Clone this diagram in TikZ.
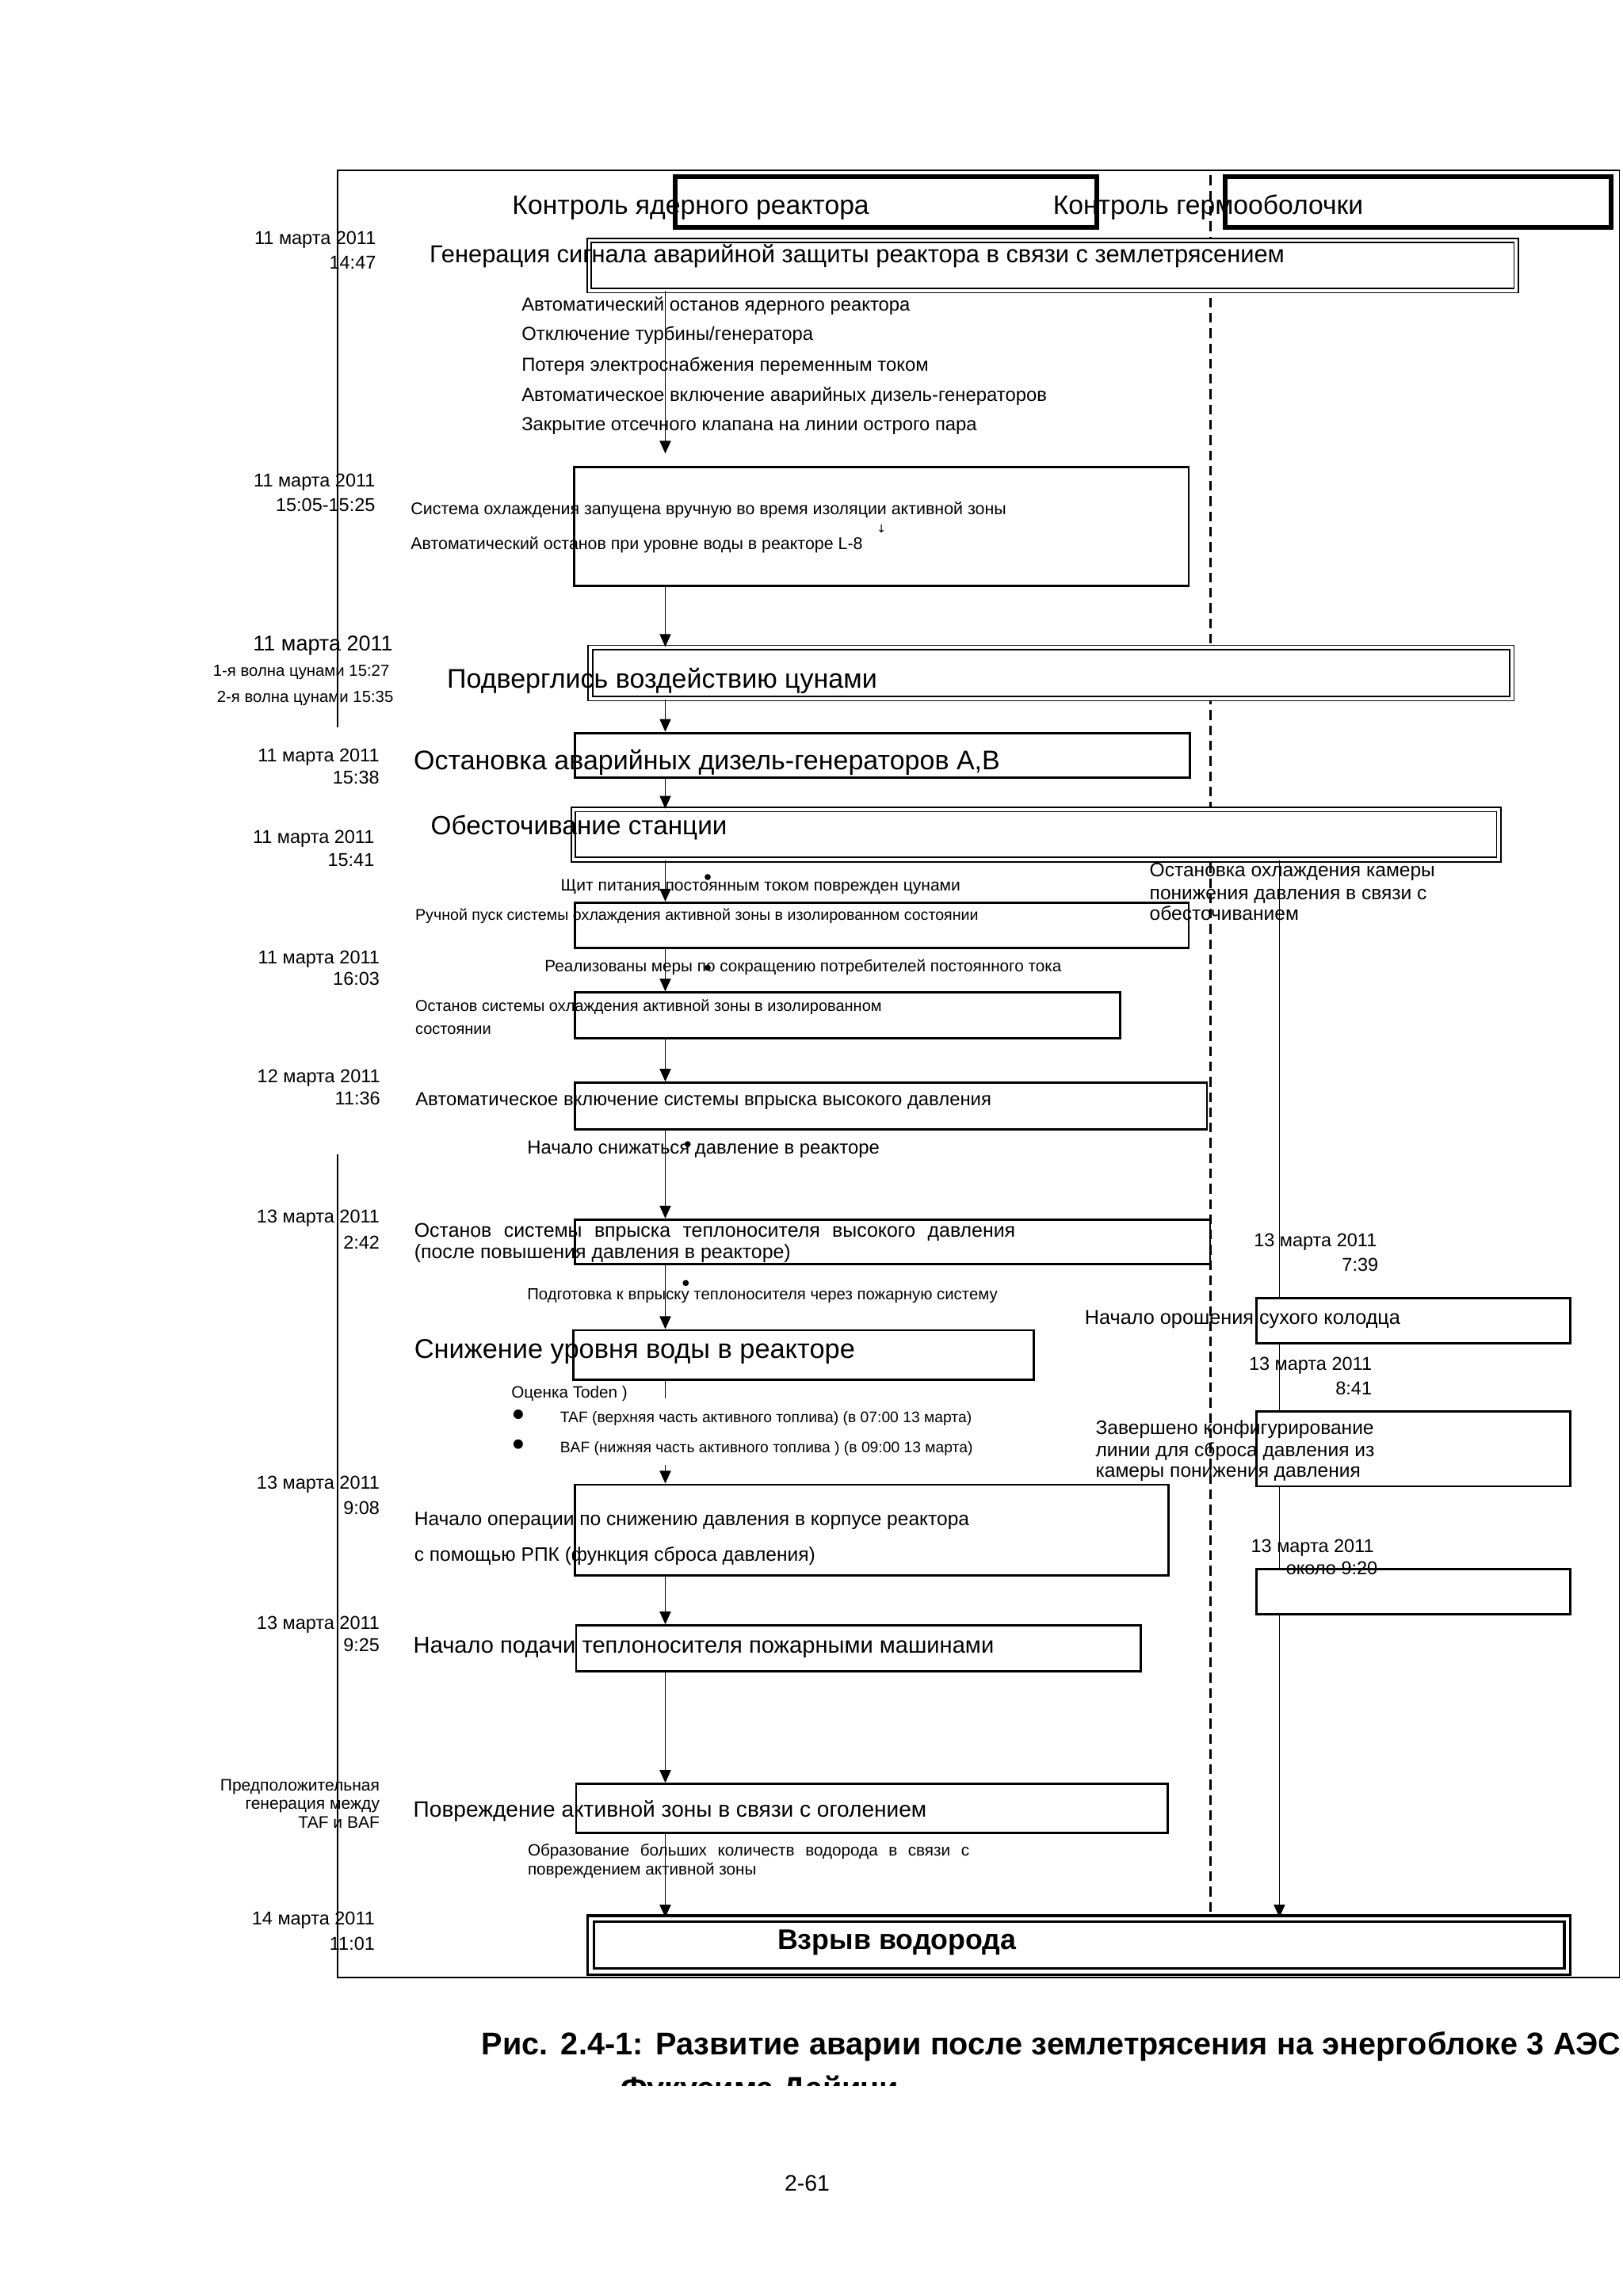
\documentclass[tikz,border=0pt]{standalone}
\usepackage{fontspec}
\setmainfont{Liberation Sans}
\newfontfamily\symfont{DejaVu Sans}
\usetikzlibrary{arrows.meta, positioning, fit}
\newcommand{\fs}[1]{\fontsize{#1}{#1}\selectfont}
\newlength{\du}\setlength{\du}{0.0185cm}
\tikzset{
  evbox/.style={draw=black, line width=0.8pt, fill=white, inner sep=0pt},
  dblbox/.style={draw=black, line width=0.5pt, double=white, double distance=1.1pt, fill=white, inner sep=0pt},
  hdbox/.style={draw=black, line width=1.7pt, inner sep=0pt},
  flow/.style={black, line width=0.5pt, -{Triangle[length=4.6pt, width=4pt]}},
  frame/.style={black, line width=0.5pt},
  sep/.style={black, line width=0.7pt, dash pattern=on 3.5pt off 2pt},
  txt/.style={inner sep=0pt, anchor=base west},
  dte/.style={inner sep=0pt, anchor=base east, font=\fs{6.7}},
}

\begin{document}
\begin{tikzpicture}[x=0.0185cm, y=-0.0185cm]
\useasboundingbox (0,0) rectangle (1110,1570.7);

% frame round the chart
\draw[frame] (231,497.7) -- (231,116.5) -- (1107.5,116.5) -- (1107.5,1353) -- (231,1353) -- (231,789.5);
\draw[sep] (828,120) -- (828,1310);

\coordinate (spine) at (455,0);
\coordinate (cvspine) at (875,0);

% column heads
\node[hdbox, fit={(462,120.7) (750,155.6)}] (rxhead) {};
\node[hdbox, fit={(837.7,120.7) (1102,155.6)}] (cvhead) {};

% reactor column
\node[dblbox, fit={(403,164.5) (1037,198.7)}] (genbox) {};
\node[evbox, fit={(392.6,319.4) (813,401)}] (coolbox) {};
\node[dblbox, fit={(403.8,443) (1034,477.9)}] (tsubox) {};
\node[evbox, fit={(393.3,501.4) (813.6,532)}] (dgbox) {};
\node[dblbox, fit={(392.1,553.7) (1025,588)}] (powbox) {};
\node[evbox, fit={(393.2,617.5) (813,648.6)}] (icbox) {};
\node[evbox, fit={(393,679) (765.9,710.4)}] (icstop) {};
\node[evbox, fit={(393,740.7) (825.4,772.4)}] (hpcibox) {};
\node[evbox, fit={(393,834.3) (827.6,864.9)}] (hpstop) {};
\node[evbox, fit={(392.1,910) (707.2,944)}] (lvlbox) {};
\node[evbox, fit={(393,1015.7) (799.3,1077.7)}] (srvbox) {};
\node[evbox, fit={(394,1112) (780.4,1143.3)}] (firebox) {};
\node[evbox, fit={(394,1220.4) (798.6,1253.8)}] (corebox) {};
\node[dblbox, line width=0.9pt, double distance=1.3pt, fit={(404.2,1312.6) (1072,1348.6)}] (h2box) {};

% containment column
\draw[flow] (powbox.south -| cvspine) -- (h2box.north -| cvspine);
\node[evbox, fit={(859.2,888) (1073.9,918.9)}] (dwbox) {};
\node[evbox, fit={(859.2,965.5) (1073.9,1016.8)}] (ventbox) {};
\node[evbox, fit={(859.2,1073.4) (1073.9,1104.2)}] (latebox) {};

% arrows down the reactor column
\draw[flow, shorten >=4.4pt] (genbox.south -| spine) -- (coolbox.north -| spine);
\draw[flow] (coolbox.south -| spine) -- (tsubox.north -| spine);
\draw[flow] (tsubox.south -| spine) -- (dgbox.north -| spine);
\draw[flow] (dgbox.south -| spine) -- (powbox.north -| spine);
\draw[flow] (powbox.south -| spine) -- (icbox.north -| spine);
\draw[flow] (icbox.south -| spine) -- (icstop.north -| spine);
\draw[flow] (icstop.south -| spine) -- (hpcibox.north -| spine);
\draw[flow] (hpcibox.south -| spine) -- (hpstop.north -| spine);
\draw[flow] (hpstop.south -| spine) -- (lvlbox.north -| spine);
\coordinate (lvlstub) at (455,956.6);
\coordinate (srvin) at (455,1002);
\draw[frame] (lvlbox.south -| spine) -- (lvlstub);
\draw[flow] (srvin) -- (srvbox.north -| spine);
\draw[flow] (srvbox.south -| spine) -- (firebox.north -| spine);
\draw[flow] (firebox.south -| spine) -- (corebox.north -| spine);
\draw[flow] (corebox.south -| spine) -- (h2box.north -| spine);

% dots
\fill (484,600) circle (1.1pt);
\fill (484,662) circle (1.1pt);
\fill (470.3,782.7) circle (1.1pt);
\fill (469,877.7) circle (1.1pt);
\fill (354.4,967.5) circle (1.7pt);
\fill (354.4,987.9) circle (1.7pt);

% heads
\node[txt, font=\fs{9.6}] (rxlbl) at (350,146.7) {Контроль ядерного реактора};
\node[txt, font=\fs{9.6}] (cvlbl) at (719.8,146.7) {Контроль гермооболочки};

% dates
\node[dte] (d1a) at (257.5,167) {11 марта 2011};
\node[dte] (d1b) at (257.5,183.9) {14:47};
\node[dte] (d2a) at (257,333) {11 марта 2011};
\node[dte] (d2b) at (257,349.6) {15:05-15:25};
\node[dte, font=\fs{7.7}] (d3a) at (269,445.3) {11 марта 2011};
\node[dte, font=\fs{5.8}] (d3b) at (266.7,462.5) {1-я волна цунами 15:27};
\node[dte, font=\fs{5.8}] (d3c) at (269.4,480.6) {2-я волна цунами 15:35};
\node[dte] (d4a) at (259.8,521.2) {11 марта 2011};
\node[dte] (d4b) at (259.8,536.2) {15:38};
\node[dte] (d5a) at (256.4,577.2) {11 марта 2011};
\node[dte] (d5b) at (256.4,592.6) {15:41};
\node[dte] (d6a) at (260,659.4) {11 марта 2011};
\node[dte] (d6b) at (260,673.9) {16:03};
\node[dte] (d7a) at (260.4,740.4) {12 марта 2011};
\node[dte] (d7b) at (260.4,755.6) {11:36};
\node[dte] (d8a) at (260,836.5) {13 марта 2011};
\node[dte] (d8b) at (260,854.2) {2:42};
\node[dte] (d9a) at (260,1018.6) {13 марта 2011};
\node[dte] (d9b) at (260,1036.1) {9:08};
\node[dte] (d10a) at (260,1114.7) {13 марта 2011};
\node[dte] (d10b) at (260,1130) {9:25};
\node[dte, font=\fs{6}] (d11a) at (260,1225) {Предположительная};
\node[dte, font=\fs{6}] (d11b) at (260,1237.6) {генерация между};
\node[dte, font=\fs{6}] (d11c) at (260,1250.6) {TAF и BAF};
\node[dte] (d12a) at (256.7,1317) {14 марта 2011};
\node[dte] (d12b) at (256.7,1334) {11:01};
\node[dte] (r1a) at (942,852.6) {13 марта 2011};
\node[dte] (r1b) at (943,869.5) {7:39};
\node[dte] (r2a) at (938.6,937.5) {13 марта 2011};
\node[dte] (r2b) at (938.6,954.1) {8:41};
\node[dte] (r3a) at (940,1062) {13 марта 2011};
\node[dte] (r3b) at (942.5,1077.2) {около 9:20};

% reactor column texts
\node[txt, font=\fs{8.8}] (gentxt) at (293.5,179.8) {Генерация сигнала аварийной защиты реактора в связи с землетрясением};
\node[txt, font=\fs{6.8}] (gen1) at (356.4,212.6) {Автоматический останов ядерного реактора};
\node[txt, font=\fs{6.8}] (gen2) at (356.4,233) {Отключение турбины/генератора};
\node[txt, font=\fs{6.8}] (gen3) at (356.4,253.8) {Потеря электроснабжения переменным током};
\node[txt, font=\fs{6.8}] (gen4) at (356.4,274.3) {Автоматическое включение аварийных дизель-генераторов};
\node[txt, font=\fs{6.8}] (gen5) at (356.4,294.5) {Закрытие отсечного клапана на линии острого пара};
\node[txt, font=\fs{6.1}] (cool1) at (280.6,352) {Система охлаждения запущена вручную во время изоляции активной зоны};
\node[font=\symfont\fs{4}, inner sep=0pt] (coolmark) at (602.8,362) {↓};
\node[txt, font=\fs{6.1}] (cool2) at (280.6,375.8) {Автоматический останов при уровне воды в реакторе L-8};
\node[txt, font=\fs{9.7}] (tsutxt) at (305.4,470.6) {Подверглись воздействию цунами};
\node[txt, font=\fs{9.7}] (dgtxt) at (282.6,526.6) {Остановка аварийных дизель-генераторов А,В};
\node[txt, font=\fs{9.5}] (powtxt) at (294.3,570.9) {Обесточивание станции};
\node[txt, font=\fs{6}] (dctxt) at (383.2,609.2) {Щит питания постоянным током поврежден цунами};
\node[txt, font=\fs{5.6}] (ictxt) at (283.7,629.6) {Ручной пуск системы охлаждения активной зоны в изолированном состоянии};
\node[txt, font=\fs{5.9}] (loadtxt) at (372.2,664.9) {Реализованы меры по сокращению потребителей постоянного тока};
\node[txt, font=\fs{5.7}] (icst1) at (283.7,692) {Останов системы охлаждения активной зоны в изолированном};
\node[txt, font=\fs{5.7}] (icst2) at (283.7,707.3) {состоянии};
\node[txt, font=\fs{6.8}] (hpcitxt) at (283.8,756.6) {Автоматическое включение системы впрыска высокого давления};
\node[txt, font=\fs{6.8}] (prestxt) at (360.2,789.5) {Начало снижаться давление в реакторе};
\node[txt, font=\fs{7.1}] (hpst1) at (283,846.4) {\makebox[411\du][s]{Останов системы впрыска теплоносителя высокого давления}};
\node[txt, font=\fs{7.1}] (hpst2) at (283,860.9) {(после повышения давления в реакторе)};
\node[txt, font=\fs{5.8}] (preptxt) at (360.2,888.9) {Подготовка к впрыску теплоносителя через пожарную систему};
\node[txt, font=\fs{9.8}] (lvltxt) at (283,929.5) {Снижение уровня воды в реакторе};
\node[txt, font=\fs{5.9}] (todtxt) at (349.4,956.3) {Оценка Toden )};
\node[txt, font=\fs{5.5}] (taftxt) at (382.7,973.4) {TAF (верхняя часть активного топлива) (в 07:00 13 марта)};
\node[txt, font=\fs{5.5}] (baftxt) at (382.7,993.7) {BAF (нижняя часть активного топлива ) (в 09:00 13 марта)};
\node[txt, font=\fs{7}] (srv1) at (283,1043.4) {Начало операции по снижению давления в корпусе реактора};
\node[txt, font=\fs{7}] (srv2) at (283,1067.8) {с помощью РПК (функция сброса давления)};
\node[txt, font=\fs{8.3}] (firetxt) at (282.4,1131) {Начало подачи теплоносителя пожарными машинами};
\node[txt, font=\fs{8}] (coretxt) at (282.4,1243) {Повреждение активной зоны в связи с оголением};
\node[txt, font=\fs{5.9}] (h2gen1) at (360.6,1269.7) {\makebox[302\du][s]{Образование больших количеств водорода в связи с}};
\node[txt, font=\fs{5.9}] (h2gen2) at (360.6,1282.7) {повреждением активной зоны};
\node[txt, font=\bfseries\fs{10.2}] (h2txt) at (531.4,1333.5) {Взрыв водорода};

% containment column texts
\node[txt, font=\fs{7}] (sc1) at (785.9,599.8) {Остановка охлаждения камеры};
\node[txt, font=\fs{7}] (sc2) at (785.9,615.2) {понижения давления в связи с};
\node[txt, font=\fs{7}] (sc3) at (785.9,629.6) {обесточиванием};
\node[txt, font=\fs{7.2}] (dwtxt) at (741.6,905.8) {Начало орошения сухого колодца};
\node[txt, font=\fs{7}] (vent1) at (749,981.2) {Завершено конфигурирование};
\node[txt, font=\fs{7}] (vent2) at (749,996.5) {линии для сброса давления из};
\node[txt, font=\fs{7}] (vent3) at (749,1010.7) {камеры понижения давления};

% caption and page number
\node[txt, font=\bfseries\fs{11.3}] (captxt) at (329,1405.6) {\makebox[779\du][s]{Рис. 2.4-1: Развитие аварии после землетрясения на энергоблоке 3 АЭС}};
\begin{scope}
\clip (400,1400) rectangle (700,1427);
\node[txt, font=\bfseries\fs{11.3}] (capcut) at (424,1436) {Фукусима Дайичи};
\end{scope}
\node[inner sep=0pt, anchor=base, font=\fs{8.1}] (pgnum) at (552,1499) {2-61};

\end{tikzpicture}
\end{document}
